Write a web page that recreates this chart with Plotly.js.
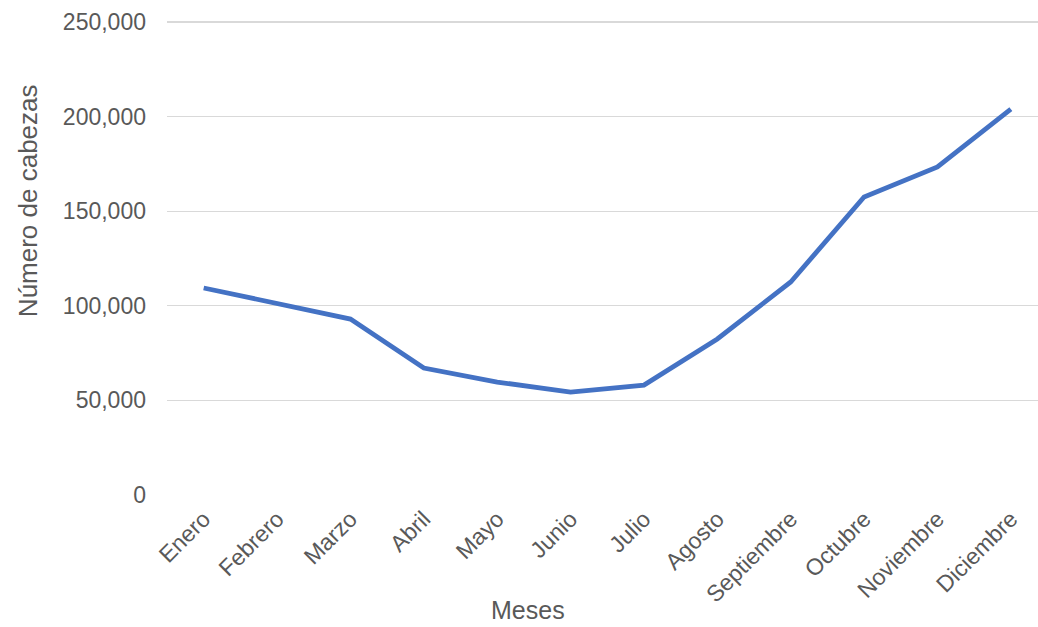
<!DOCTYPE html>
<html><head><meta charset="utf-8">
<script src="https://cdn.plot.ly/plotly-3.0.1.min.js"></script>
<style>body{margin:0;background:#fff}#c{width:1038px;height:627px}</style>
</head><body><div id="c"></div>
<script>
const meses = ["Enero","Febrero","Marzo","Abril","Mayo","Junio","Julio","Agosto","Septiembre","Octubre","Noviembre","Diciembre"];
const cabezas = [109400, 101500, 93000, 67100, 59700, 54400, 58100, 82500, 112600, 157500, 173400, 204000];
const yTicks = [0, 50000, 100000, 150000, 200000, 250000];

const font = "Liberation Sans, Arial, sans-serif";
Plotly.newPlot("c", [{
  type: "scatter", mode: "lines", x: meses, y: cabezas,
  line: {color: "#4472C4", width: 4.8, shape: "linear"},
  hoverinfo: "x+y"
}], {
  width: 1038, height: 627,
  margin: {l: 167, r: 0, t: 20, b: 132},
  paper_bgcolor: "#fff", plot_bgcolor: "#fff",
  showlegend: false,
  font: {family: font, color: "#595959"},
  xaxis: {
    type: "category", range: [-0.5, 11.37],
    tickangle: -45, tickfont: {size: 23, color: "#595959"},
    showgrid: false, zeroline: false, showline: false, ticks: "",
    ticklabelstandoff: 5
  },
  yaxis: {
    range: [0, 251057], tickvals: yTicks, tickformat: ",d",
    tickfont: {size: 23, color: "#595959"},
    gridcolor: "#d9d9d9", gridwidth: 1.3, zeroline: false, showline: false, ticks: "",
    ticklabelstandoff: 20
  },
  annotations: [{
    text: "Meses", xref: "paper", yref: "paper", x: 0.415, y: -0.243,
    xanchor: "center", yanchor: "middle", showarrow: false,
    font: {size: 25, color: "#595959", family: font}
  }, {
    text: "Número de cabezas", xref: "paper", yref: "paper", x: -0.16, y: 0.62,
    xanchor: "center", yanchor: "middle", showarrow: false, textangle: -90,
    font: {size: 26, color: "#595959", family: font}
  }]
}, {displayModeBar: false, staticPlot: true});
</script></body></html>
